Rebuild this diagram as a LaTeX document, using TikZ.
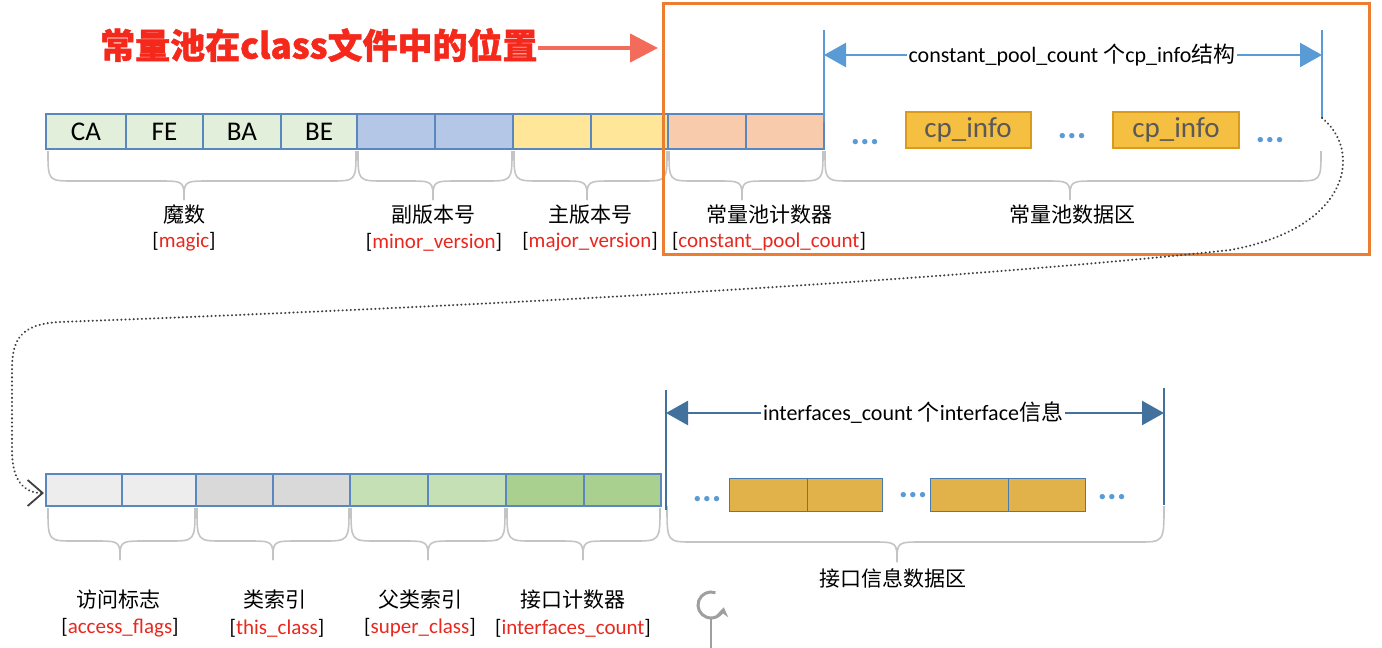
\documentclass[tikz,border=0pt]{standalone}
\usepackage{fontspec}
\setmainfont{Carlito}
\newfontfamily\cjk{Noto Sans CJK SC}
\newfontfamily\cjkt{Noto Sans CJK SC}[FakeBold=1.2]
\usetikzlibrary{arrows.meta}
\definecolor{cellline}{HTML}{5B87BF}
\definecolor{cgreen}{HTML}{E2EFDA}
\definecolor{cblue}{HTML}{B4C7E7}
\definecolor{cyellow}{HTML}{FFE699}
\definecolor{cpeach}{HTML}{F8CBAD}
\definecolor{lgray}{HTML}{EDEDED}
\definecolor{mgray}{HTML}{D9D9D9}
\definecolor{lgreen}{HTML}{C5E0B4}
\definecolor{dgreen}{HTML}{A9D08E}
\definecolor{cpfill}{HTML}{F5BF42}
\definecolor{cpline}{HTML}{D99A1E}
\definecolor{ifill}{HTML}{E2B24A}
\definecolor{iline}{HTML}{4A7BAE}
\definecolor{ablue}{HTML}{5B9BD5}
\definecolor{dblue}{HTML}{41719C}
\definecolor{bracegray}{HTML}{C4C4C4}
\definecolor{orangebox}{HTML}{ED7D31}
\definecolor{titlered}{HTML}{F5281C}
\definecolor{lred}{HTML}{E8281E}
\definecolor{redarrow}{HTML}{F26B5B}
\definecolor{dotgray}{HTML}{404040}
\newcommand\curlyb[6]{%
  \draw[bracestyle] (#1,#4) .. controls (#1,#5) .. (#1+26,#5) -- (#3-26,#5) .. controls (#3,#5) .. (#3,#6);
  \draw[bracestyle] (#2,#4) .. controls (#2,#5) .. (#2-26,#5) -- (#3+26,#5) .. controls (#3,#5) .. (#3,#6);
}
\begin{document}
\begin{tikzpicture}[x=1pt,y=-1pt,
  cellbox/.style={draw=cellline, line width=1.4pt, inner sep=0pt, outer sep=0pt, anchor=north west, font=\fontsize{27}{27}\selectfont},
  bracestyle/.style={draw=bracegray, line width=1.6pt},
  cnlab/.style={font=\cjk\fontsize{21}{21}\selectfont, inner sep=1pt},
  rlab/.style={font=\fontsize{21}{21}\selectfont, inner sep=1pt},
  dimlab/.style={fill=white, inner sep=2pt, font=\fontsize{22}{22}\selectfont},
  dotsn/.style={text=ablue, font=\bfseries\fontsize{36}{36}\selectfont, inner sep=0pt, anchor=base},
  vline/.style={line width=2.2pt},
  dimarrow/.style={line width=2.5pt, {Triangle[length=22pt,width=24pt]}-{Triangle[length=22pt,width=24pt]}},
]
\useasboundingbox (0,0) rectangle (1382,648);
% top row
\node[cellbox, fill=cgreen, minimum width=80pt, minimum height=35pt] (ca) at (46,114) {CA};
\node[cellbox, fill=cgreen, minimum width=77pt, minimum height=35pt] (fe) at (126,114) {FE};
\node[cellbox, fill=cgreen, minimum width=78pt, minimum height=35pt] (ba) at (203,114) {BA};
\node[cellbox, fill=cgreen, minimum width=76pt, minimum height=35pt] (be) at (281,114) {BE};
\node[cellbox, fill=cblue, minimum width=78pt, minimum height=35pt] (mi1) at (357,114) {};
\node[cellbox, fill=cblue, minimum width=78pt, minimum height=35pt] (mi2) at (435,114) {};
\node[cellbox, fill=cyellow, minimum width=78pt, minimum height=35pt] (ma1) at (513,114) {};
\node[cellbox, fill=cyellow, minimum width=77pt, minimum height=35pt] (ma2) at (591,114) {};
\node[cellbox, fill=cpeach, minimum width=78pt, minimum height=35pt] (cc1) at (668,114) {};
\node[cellbox, fill=cpeach, minimum width=78pt, minimum height=35pt] (cc2) at (746,114) {};
% top braces
\curlyb{48}{356}{184}{151}{181}{200}
\curlyb{358}{512}{433}{151}{181}{200}
\curlyb{514}{667}{587}{151}{181}{200}
\curlyb{669}{823}{742}{151}{181}{200}
\curlyb{825}{1321}{1070}{151}{181}{200}
% top labels
\node[cnlab] (lmagic) at (184,215) {魔数};
\node[rlab] (rmagic) at (184,242) {{[}\textcolor{lred}{magic}{]}};
\node[cnlab] (lminor) at (433,215) {副版本号};
\node[rlab] (rminor) at (434,242) {{[}\textcolor{lred}{minor\_version}{]}};
\node[cnlab] (lmajor) at (590,215) {主版本号};
\node[rlab] (rmajor) at (590,242) {{[}\textcolor{lred}{major\_version}{]}};
\node[cnlab] (lcount) at (769,215) {常量池计数器};
\node[rlab] (rcount) at (769,242) {{[}\textcolor{lred}{constant\_pool\_count}{]}};
\node[cnlab] (ldata) at (1072,215) {常量池数据区};
% cp_info area
\coordinate (t1a) at (824,30); \coordinate (t1b) at (824,122);
\coordinate (t2a) at (1322,30); \coordinate (t2b) at (1322,118);
\coordinate (t1m) at (824,55); \coordinate (t2m) at (1322,55);
\draw[vline, ablue] (t1a) -- (t1b);
\draw[vline, ablue] (t2a) -- (t2b);
\draw[dimarrow, ablue] (t1m) -- (t2m);
\node[dimlab] (cplab) at (1072,55) {constant\_pool\_count {\cjk 个}cp\_info{\cjk 结构}};
\node[draw=cpline, fill=cpfill, line width=2pt, minimum width=125pt, minimum height=36pt, inner sep=0pt, text=black!65, font=\fontsize{29}{29}\selectfont] (cp1) at (968,130) {cp\_info};
\node[draw=cpline, fill=cpfill, line width=2pt, minimum width=126pt, minimum height=36pt, inner sep=0pt, text=black!65, font=\fontsize{29}{29}\selectfont] (cp2) at (1176,130) {cp\_info};
\node[dotsn] (d1) at (865,144) {...};
\node[dotsn] (d2) at (1072,138) {...};
\node[dotsn] (d3) at (1270,142) {...};
% orange frame
\node[draw=orangebox, line width=3.2pt, minimum width=706pt, minimum height=251pt, anchor=north west, inner sep=0pt] (frame) at (662,2) {};
% title and arrow
\node[font=\cjkt\bfseries\fontsize{35}{35}\selectfont, text=titlered, inner sep=0pt, anchor=west] (title) at (100,45) {常量池在class文件中的位置};
\coordinate (tarrow) at (658,48);
\draw[redarrow, line width=4.5pt, -{Triangle[length=28pt,width=28pt]}] (title.east |- tarrow) -- (tarrow);
% bottom row
\node[cellbox, fill=lgray, minimum width=76pt, minimum height=32pt] (af1) at (46,474) {};
\node[cellbox, fill=lgray, minimum width=74pt, minimum height=32pt] (af2) at (122,474) {};
\node[cellbox, fill=mgray, minimum width=77pt, minimum height=32pt] (tc1) at (196,474) {};
\node[cellbox, fill=mgray, minimum width=77pt, minimum height=32pt] (tc2) at (273,474) {};
\node[cellbox, fill=lgreen, minimum width=78pt, minimum height=32pt] (sc1) at (350,474) {};
\node[cellbox, fill=lgreen, minimum width=78pt, minimum height=32pt] (sc2) at (428,474) {};
\node[cellbox, fill=dgreen, minimum width=78pt, minimum height=32pt] (ic1) at (506,474) {};
\node[cellbox, fill=dgreen, minimum width=77pt, minimum height=32pt] (ic2) at (584,474) {};
% bottom braces
\curlyb{48}{195}{120}{508}{541}{560}
\curlyb{197}{349}{273}{508}{541}{560}
\curlyb{351}{505}{428}{508}{541}{560}
\curlyb{507}{660}{583}{508}{541}{560}
\curlyb{667}{1164}{897}{506}{542}{562}
% bottom labels
\node[cnlab] (lacc) at (118,600) {访问标志};
\node[rlab] (racc) at (120,628) {{[}\textcolor{lred}{access\_flags}{]}};
\node[cnlab] (lthis) at (275,600) {类索引};
\node[rlab] (rthis) at (277,628) {{[}\textcolor{lred}{this\_class}{]}};
\node[cnlab] (lsuper) at (420,600) {父类索引};
\node[rlab] (rsuper) at (420,628) {{[}\textcolor{lred}{super\_class}{]}};
\node[cnlab] (lic) at (573,600) {接口计数器};
\node[rlab] (ric) at (573,628) {{[}\textcolor{lred}{interfaces\_count}{]}};
\node[cnlab] (lidata) at (893,578) {接口信息数据区};
% interface area
\coordinate (b1a) at (666,390); \coordinate (b1b) at (666,510);
\coordinate (b2a) at (1164,388); \coordinate (b2b) at (1164,505);
\coordinate (b1m) at (666,413); \coordinate (b2m) at (1164,413);
\draw[vline, dblue] (b1a) -- (b1b);
\draw[vline, dblue] (b2a) -- (b2b);
\draw[dimarrow, dblue] (b1m) -- (b2m);
\node[dimlab] (iflab) at (913,413) {interfaces\_count {\cjk 个}interface{\cjk 信息}};
\node[draw=iline, fill=ifill, line width=1.4pt, minimum width=78pt, minimum height=33pt, inner sep=0pt, anchor=north west] (if1) at (729,478) {};
\node[draw=iline, fill=ifill, line width=1.4pt, minimum width=75pt, minimum height=33pt, inner sep=0pt, anchor=north west] (if2) at (807,478) {};
\node[draw=iline, fill=ifill, line width=1.4pt, minimum width=78pt, minimum height=33pt, inner sep=0pt, anchor=north west] (if3) at (930,478) {};
\node[draw=iline, fill=ifill, line width=1.4pt, minimum width=77pt, minimum height=33pt, inner sep=0pt, anchor=north west] (if4) at (1008,478) {};
\node[dotsn] (e1) at (707,501) {...};
\node[dotsn] (e2) at (913,497) {...};
\node[dotsn] (e3) at (1112,499) {...};
% dotted connector
\coordinate (dend) at (44,493);
\draw[dotgray, line width=2.2pt, line cap=round, dash pattern=on 0.1pt off 4pt, -{Straight Barb[length=15pt,width=26pt,line width=1.8pt]}]
  (t2b) .. controls (1362,150) and (1352,228) .. (1230,250)
  .. controls (1000,275) and (600,302) .. (60,322)
  .. controls (20,324) and (12,340) .. (12,370) -- (12,450)
  .. controls (12,478) and (22,493) .. (dend);
% rotate handle
\coordinate (rh) at (711,605);
\coordinate (rhb) at (711,648);
\draw[gray!75, line width=3pt, -{Stealth[length=9pt,width=12pt]}] (rh) ++(70:13pt) arc (70:350:13pt);
\draw[gray!75, line width=1.4pt] (711,619) -- (rhb);
\end{tikzpicture}
\end{document}
